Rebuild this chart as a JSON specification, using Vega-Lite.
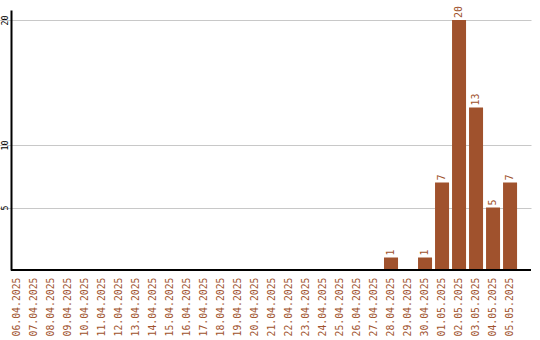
{
  "$schema": "https://vega.github.io/schema/vega-lite/v6.json",
  "autosize": "none",
  "width": 520,
  "height": 260,
  "padding": {"left": 11, "top": 10, "right": 9, "bottom": 70},
  "background": "white",
  "data": {
    "values": [
      {"date": "06.04.2025", "count": 0},
      {"date": "07.04.2025", "count": 0},
      {"date": "08.04.2025", "count": 0},
      {"date": "09.04.2025", "count": 0},
      {"date": "10.04.2025", "count": 0},
      {"date": "11.04.2025", "count": 0},
      {"date": "12.04.2025", "count": 0},
      {"date": "13.04.2025", "count": 0},
      {"date": "14.04.2025", "count": 0},
      {"date": "15.04.2025", "count": 0},
      {"date": "16.04.2025", "count": 0},
      {"date": "17.04.2025", "count": 0},
      {"date": "18.04.2025", "count": 0},
      {"date": "19.04.2025", "count": 0},
      {"date": "20.04.2025", "count": 0},
      {"date": "21.04.2025", "count": 0},
      {"date": "22.04.2025", "count": 0},
      {"date": "23.04.2025", "count": 0},
      {"date": "24.04.2025", "count": 0},
      {"date": "25.04.2025", "count": 0},
      {"date": "26.04.2025", "count": 0},
      {"date": "27.04.2025", "count": 0},
      {"date": "28.04.2025", "count": 1},
      {"date": "29.04.2025", "count": 0},
      {"date": "30.04.2025", "count": 1},
      {"date": "01.05.2025", "count": 7},
      {"date": "02.05.2025", "count": 20},
      {"date": "03.05.2025", "count": 13},
      {"date": "04.05.2025", "count": 5},
      {"date": "05.05.2025", "count": 7}
    ]
  },
  "layer": [
    {
      "mark": {"type": "bar", "color": "#a0522d"},
      "encoding": {
        "x": {
          "field": "date",
          "type": "ordinal",
          "sort": null,
          "scale": {"range": [-15, 520], "paddingInner": 0.176, "paddingOuter": 0.82},
          "axis": {
            "title": null,
            "domain": false,
            "ticks": false,
            "grid": false,
            "labelAngle": 270,
            "labelAlign": "right",
            "labelBaseline": "middle",
            "labelPadding": 7,
            "labelColor": "#a0522d",
            "labelFont": "DejaVu Sans Mono",
            "labelFontSize": 9.8
          }
        },
        "y": {
          "field": "count",
          "type": "quantitative",
          "scale": {"domain": [0, 20.8], "nice": false},
          "axis": {
            "title": null,
            "values": [5, 10, 20],
            "domain": true,
            "domainColor": "#000000",
            "domainWidth": 2,
            "ticks": false,
            "grid": true,
            "gridColor": "#c8c8c8",
            "gridWidth": 1,
            "labelAngle": 270,
            "labelAlign": "center",
            "labelBaseline": "bottom",
            "labelPadding": 2,
            "labelColor": "#000000",
            "labelFont": "DejaVu Sans Mono",
            "labelFontSize": 8.3
          }
        }
      }
    },
    {
      "transform": [{"filter": "datum.count > 0"}],
      "mark": {
        "type": "text",
        "angle": 270,
        "align": "left",
        "baseline": "middle",
        "dx": 2,
        "color": "#a0522d",
        "font": "DejaVu Sans Mono",
        "fontSize": 10
      },
      "encoding": {
        "x": {"field": "date", "type": "ordinal", "sort": null, "band": 0.5},
        "y": {"field": "count", "type": "quantitative"},
        "text": {"field": "count", "type": "quantitative"}
      }
    },
    {
      "mark": {"type": "rule", "color": "#000000", "strokeWidth": 2},
      "encoding": {"y": {"datum": 0}}
    }
  ],
  "config": {"view": {"stroke": null}}
}
